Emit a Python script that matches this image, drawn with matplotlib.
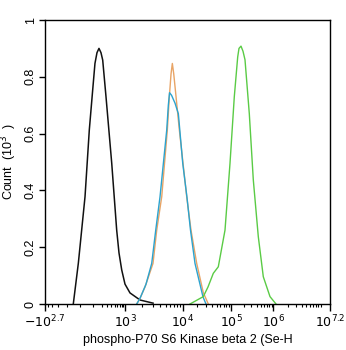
import numpy as np
import matplotlib
matplotlib.use("Agg")
import matplotlib.pyplot as plt

plt.rcParams.update({"font.family": ["Liberation Sans", "DejaVu Sans"], "font.size": 9})

# histogram traces: fluorescence intensity vs count (x10^3)
black_x = [-45, -10, 35, 67, 96, 118, 140, 164, 191, 217, 275, 409, 573, 669, 803, 1000, 1220, 1820, 3050]
black_y = [0, 0.144, 0.378, 0.613, 0.754, 0.847, 0.885, 0.90, 0.885, 0.859, 0.73, 0.496, 0.26, 0.18,
           0.12, 0.07, 0.039, 0.014, 0.003]

orange_x = [1594, 1817, 2217, 3043, 3527, 4303, 5373, 5817, 6220, 6553, 6928, 7587, 8653, 11940,
            14680, 19290, 26480, 33660]
orange_y = [0, 0.02, 0.06, 0.143, 0.26, 0.378, 0.613, 0.73, 0.81, 0.847, 0.81, 0.73, 0.613, 0.378,
            0.26, 0.143, 0.04, 0]

blue_x = [1594, 1817, 2307, 2892, 3390, 4021, 5246, 5590, 5862, 6350, 7293, 8316, 9900, 12115,
          14330, 17780, 26100, 30150]
blue_y = [0, 0.02, 0.07, 0.143, 0.26, 0.378, 0.613, 0.70, 0.744, 0.735, 0.707, 0.67, 0.495, 0.375,
          0.26, 0.143, 0.025, 0]

green_x = [13990, 26480, 33180, 42790, 54380, 74990, 95300, 119600, 143800, 154200, 171900,
           191600, 213500, 269600, 334800, 438900, 575400, 827200, 1130000]
green_y = [0, 0.026, 0.06, 0.108, 0.131, 0.26, 0.495, 0.73, 0.87, 0.9, 0.908,
           0.89, 0.86, 0.67, 0.437, 0.237, 0.096, 0.026, 0]

xmin, xmax = -10 ** 2.7, 10 ** 7.2
major_ticks = [xmin, 1e3, 1e4, 1e5, 1e6, xmax]
major_labels = [r"$-10^{2.7}$", r"$10^{3}$", r"$10^{4}$", r"$10^{5}$", r"$10^{6}$", r"$10^{7.2}$"]

# biexponential-ish display scale: asinh, then stretched to match the decade widths
def g(x):
    return np.arcsinh(np.asarray(x, dtype=float) / 100.0) / np.log(10)

def g_inv(u):
    return 100.0 * np.sinh(np.asarray(u, dtype=float) * np.log(10))

gk = g(major_ticks)
pk = np.array([0.0, 80.0, 138.0, 186.0, 228.5, 285.0])

def fwd(x):
    return np.interp(g(x), gk, pk)

def inv(p):
    return g_inv(np.interp(p, pk, gk))

fig = plt.figure(figsize=(3.46, 3.5), dpi=100)
ax = fig.add_axes([45 / 346, 46 / 350, 285 / 346, 284 / 350])
ax.set_xscale("function", functions=(fwd, inv))

ax.plot(black_x, black_y, color="#111111", lw=1.1)
ax.plot(orange_x, orange_y, color="#E8A466", lw=1.0)
ax.plot(blue_x, blue_y, color="#2BA3CF", lw=1.0)
ax.plot(green_x, green_y, color="#5ACB45", lw=1.0)

ax.set_xlim(xmin, xmax)
ax.set_ylim(0, 1)

minor = list(range(-400, 1000, 100))
for d in [1e3, 1e4, 1e5, 1e6]:
    minor += [k * d for k in range(2, 10)]
minor.append(1e7)
ax.set_xticks(major_ticks)
ax.set_xticklabels(major_labels)
ax.set_xticks(minor, minor=True)
ax.set_yticks([0, 0.2, 0.4, 0.6, 0.8, 1])
ax.set_yticklabels(["0", "0.2", "0.4", "0.6", "0.8", "1"], rotation=90, va="center")

ax.tick_params(axis="x", which="major", length=5, width=1, pad=2)
ax.tick_params(axis="x", which="minor", length=2.5, width=0.8)
ax.tick_params(axis="y", length=4, width=1, pad=2)
for s in ax.spines.values():
    s.set_linewidth(1.0)

ax.set_xlabel("phospho-P70 S6 Kinase beta 2 (Se-H", labelpad=3)
ax.set_ylabel("Count  (10$^3$  )", labelpad=4)

fig.savefig("out.png", dpi=100)
